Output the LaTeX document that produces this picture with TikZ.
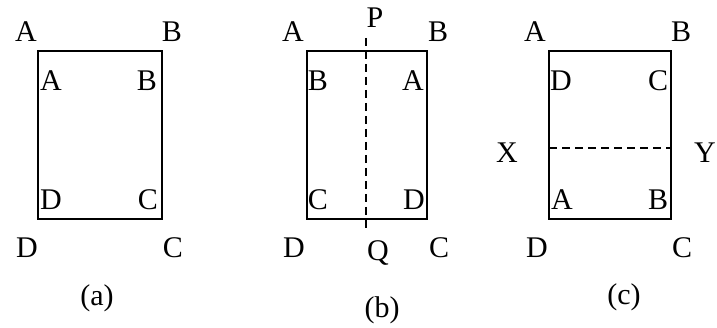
\documentclass[tikz,border=0pt]{standalone}
\usepackage{fontspec}
\setmainfont{Liberation Serif}
\begin{document}
\begin{tikzpicture}[x=1pt,y=-1pt,
  lbl/.style={font=\fontsize{30}{31}\selectfont, inner sep=0pt, anchor=base},
  frame/.style={line width=2pt},
  fold/.style={line width=2pt, dash pattern=on 8pt off 5pt}]
\useasboundingbox (0,0) rectangle (717,328);
% (a)
\coordinate (a1) at (38,51); \coordinate (a2) at (162,219);
\draw[frame] (a1) rectangle (a2);
\node[lbl] (aA) at (26,42) {A};
\node[lbl] (aB) at (172,42) {B};
\node[lbl] (aD) at (27,258) {D};
\node[lbl] (aC) at (173,258) {C};
\node[lbl] (aiA) at (51,91) {A};
\node[lbl] (aiB) at (147,91) {B};
\node[lbl] (aiD) at (51,210) {D};
\node[lbl] (aiC) at (148,210) {C};
\node[lbl] (capa) at (97,306) {(a)};
% (b)
\coordinate (b1) at (307,51); \coordinate (b2) at (427,219);
\draw[frame] (b1) rectangle (b2);
\coordinate (bP) at (366,38); \coordinate (bQ) at (366,229);
\draw[fold] (bP) -- (bQ);
\node[lbl] (bA) at (293,42) {A};
\node[lbl] (bB) at (438,42) {B};
\node[lbl] (bPl) at (375,28) {P};
\node[lbl] (bD) at (294,258) {D};
\node[lbl] (bQl) at (378,261) {Q};
\node[lbl] (bC) at (439,258) {C};
\node[lbl] (biB) at (318,91) {B};
\node[lbl] (biA) at (413,91) {A};
\node[lbl] (biC) at (318,210) {C};
\node[lbl] (biD) at (414,210) {D};
\node[lbl] (capb) at (382,318) {(b)};
% (c)
\coordinate (c1) at (549,51); \coordinate (c2) at (671,219);
\draw[frame] (c1) rectangle (c2);
\coordinate (cX) at (549,148); \coordinate (cY) at (671,148);
\draw[fold] (cX) -- (cY);
\node[lbl] (cA) at (535,42) {A};
\node[lbl] (cB) at (681,42) {B};
\node[lbl] (cXl) at (507,163) {X};
\node[lbl] (cYl) at (705,163) {Y};
\node[lbl] (cD) at (537,258) {D};
\node[lbl] (cC) at (682,258) {C};
\node[lbl] (ciD) at (561,91) {D};
\node[lbl] (ciC) at (658,91) {C};
\node[lbl] (ciA) at (562,210) {A};
\node[lbl] (ciB) at (658,210) {B};
\node[lbl] (capc) at (624,305) {(c)};
\end{tikzpicture}
\end{document}
